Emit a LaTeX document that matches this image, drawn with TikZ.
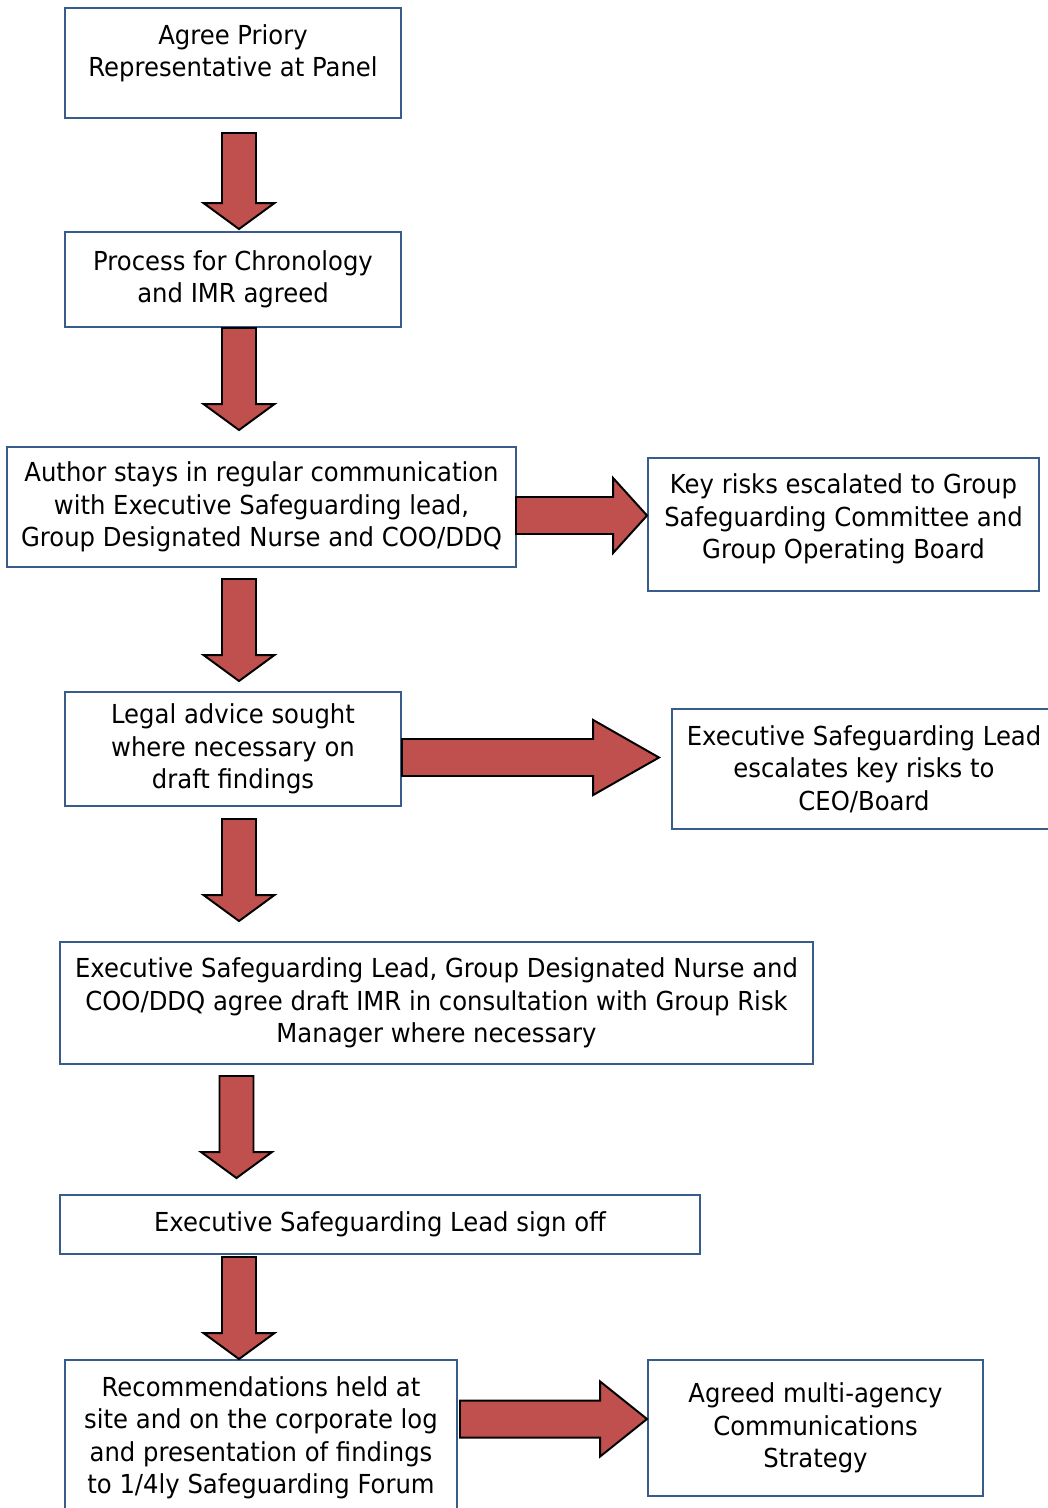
\documentclass[tikz,border=0pt]{standalone}
\usepackage{fontspec}
\setmainfont[FakeStretch=0.93]{DejaVu Sans}
\usepackage{tikz}
\usetikzlibrary{calc, positioning}
\definecolor{boxBlue}{RGB}{56, 93, 138}
\definecolor{arrowRed}{RGB}{192, 80, 77}

% block arrow downwards, from start to tip
\newcommand{\downblock}[2]{%
  \draw[blockarrow] let \p1=#1, \p2=#2 in
    (\x1-0.425cm,\y1) -- (\x1-0.425cm,\y2+0.65cm) -- (\x1-0.8875cm,\y2+0.65cm)
    -- (\x1,\y2) -- (\x1+0.8875cm,\y2+0.65cm) -- (\x1+0.425cm,\y2+0.65cm)
    -- (\x1+0.425cm,\y1) -- cycle;}
% block arrow to the right, from start to tip, head length
\newcommand{\rightblock}[3]{%
  \draw[blockarrow] let \p1=#1, \p2=#2 in
    (\x1,\y1+0.4625cm) -- (\x2-#3,\y1+0.4625cm) -- (\x2-#3,\y1+0.94cm)
    -- (\x2,\y1) -- (\x2-#3,\y1-0.94cm) -- (\x2-#3,\y1-0.4625cm)
    -- (\x1,\y1-0.4625cm) -- cycle;}

\begin{document}
\begin{tikzpicture}[
    flowbox/.style={
        rectangle,
        draw=boxBlue,
        line width=1.4pt,
        align=center,
        inner sep=0pt,
        font=\fontsize{18.6}{23.1}\selectfont
    },
    blockarrow/.style={
        fill=arrowRed,
        draw=black,
        line width=1.4pt,
        line join=miter
    }
]
\useasboundingbox (0,0) rectangle (26.175,-37.7);

% Main column of steps
\node[flowbox, minimum width=8.4cm, minimum height=2.75cm] (panel) at (5.825,-1.575)
    {Agree Priory\\Representative at Panel\\[-0.2cm]~};
\node[flowbox, minimum width=8.4cm, minimum height=2.375cm] (chrono) at (5.825,-6.988)
    {Process for Chronology\\and IMR agreed};
\node[flowbox, minimum width=12.725cm, minimum height=3cm] (author) at (6.5375,-12.675)
    {Author stays in regular communication\\with Executive Safeguarding lead,\\Group Designated Nurse and COO/DDQ};
\node[flowbox, minimum width=8.4cm, minimum height=2.85cm] (legal) at (5.825,-18.725)
    {Legal advice sought\\where necessary on\\draft findings};
\node[flowbox, minimum width=18.825cm, minimum height=3.05cm] (draftimr) at (10.9125,-25.075)
    {Executive Safeguarding Lead, Group Designated Nurse and\\COO/DDQ agree draft IMR in consultation with Group Risk\\Manager where necessary};
\node[flowbox, minimum width=16cm, minimum height=1.475cm] (signoff) at (9.5,-30.6125)
    {Executive Safeguarding Lead sign off};
\node[flowbox, minimum width=9.8cm, minimum height=3.9cm] (recs) at (6.525,-35.95)
    {Recommendations held at\\site and on the corporate log\\and presentation of findings\\to 1/4ly Safeguarding Forum};

% Side boxes
\node[flowbox, minimum width=9.775cm, minimum height=3.325cm] (keyrisks) at (21.0875,-13.1125)
    {Key risks escalated to Group\\Safeguarding Committee and\\Group Operating Board\\[-0.4cm]~};
\node[flowbox, minimum width=9.6cm, minimum height=3cm] (ceoboard) at (21.6,-19.225)
    {Executive Safeguarding Lead\\escalates key risks to\\CEO/Board};
\node[flowbox, minimum width=8.375cm, minimum height=3.4cm] (comms) at (20.3875,-35.7)
    {Agreed multi-agency\\Communications\\Strategy};

% Down arrows
\coordinate (spine) at (5.975,0);
\downblock{($(spine |- panel.south)+(0,-0.35)$)}{($(spine |- chrono.north)+(0,0.05)$)}
\downblock{(spine |- chrono.south)}{($(spine |- author.north)+(0,0.4)$)}
\downblock{($(spine |- author.south)+(0,-0.275)$)}{($(spine |- legal.north)+(0,0.25)$)}
\downblock{($(spine |- legal.south)+(0,-0.3)$)}{($(spine |- draftimr.north)+(0,0.5)$)}
\downblock{($(spine |- draftimr.south)+(-0.0625,-0.275)$)}{($(spine |- signoff.north)+(0,0.4)$)}
\downblock{($(spine |- signoff.south)+(0,-0.05)$)}{(spine |- recs.north)}

% Right arrows
\rightblock{($(author.east)+(-0.025,-0.2125)$)}{(keyrisks.west)}{0.85cm}
\rightblock{($(legal.east)+(0,-0.2125)$)}{($(ceoboard.west)+(-0.3,0)$)}{1.65cm}
\rightblock{($(recs.east)+(0.05,0.475)$)}{(comms.west)}{1.175cm}

\end{tikzpicture}
\end{document}
